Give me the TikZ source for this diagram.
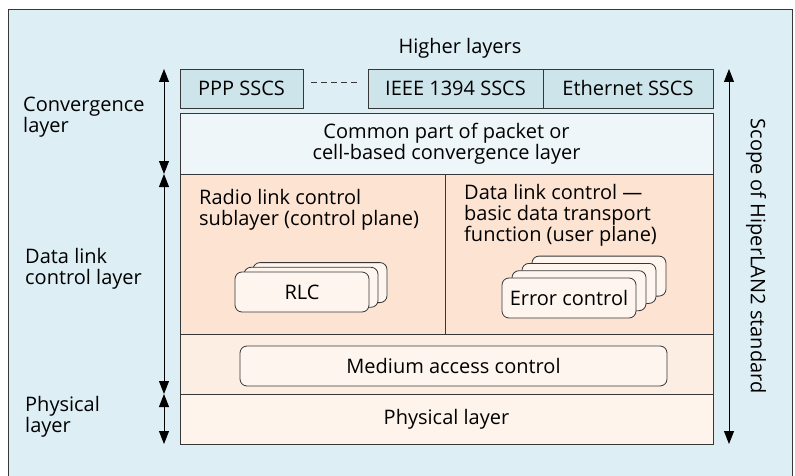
\documentclass[tikz,border=0pt]{standalone}
\usepackage{fontspec}
\setmainfont{Open Sans}
\usetikzlibrary{arrows.meta,positioning}
\definecolor{bgblue}    {RGB}{221,238,245}
\definecolor{sscsblue}  {RGB}{205,228,235}
\definecolor{commonfill}{RGB}{238,246,249}
\definecolor{dlcfill}   {RGB}{253,227,210}
\definecolor{macfill}   {RGB}{253,238,228}
\definecolor{phyfill}   {RGB}{254,244,235}
\definecolor{unitfill}  {RGB}{254,246,238}
\definecolor{linegray}  {RGB}{55,55,55}

\begin{document}
\begin{tikzpicture}[
    x=1pt, y=-1pt,
    font=\fontsize{20}{21}\selectfont,
    layer/.style={draw=linegray, line width=0.9pt, inner sep=0pt, outer sep=0pt, minimum width=533pt, align=center},
    sscs/.style={layer, fill=sscsblue, minimum height=39pt},
    unit/.style={draw=linegray, line width=0.8pt, rounded corners=7pt, fill=unitfill, minimum width=134pt, minimum height=40pt, inner sep=0pt},
    dim/.style={{Triangle[length=13pt,width=10pt]}-{Triangle[length=13pt,width=10pt]}, line width=0.9pt, draw=black},
    side/.style={anchor=north west, align=left, inner sep=0pt}
]
    \useasboundingbox (0,0) rectangle (795,476);
    \draw[draw=linegray, line width=0.9pt, fill=bgblue] (8,9) rectangle (792,484);

    % Convergence sublayers
    \node (higher) at (460,48) {Higher layers};
    \node[sscs, minimum width=123pt] (ppp) at (241.5,88.5) {PPP SSCS};
    \node[sscs, minimum width=175pt] (ieee) at (455.5,88.5) {IEEE 1394 SSCS};
    \node[sscs, minimum width=170pt, right=0pt of ieee] (eth) {Ethernet SSCS};
    \draw[linegray, line width=0.8pt, dash pattern=on 6pt off 4pt]
        ([xshift=8pt, yshift=6.5pt]ppp.east) -- ([xshift=-11pt, yshift=6.5pt]ieee.west);
    \node[layer, fill=commonfill, minimum height=61pt] (common) at (446.5,143.5)
        {Common part of packet or\\cell-based convergence layer};

    % Data link control
    \node[layer, fill=dlcfill, minimum width=265pt, minimum height=160pt,
          below=0pt of common.south west, anchor=north west] (rlcside) {};
    \node[layer, fill=dlcfill, minimum width=268pt, minimum height=160pt,
          right=0pt of rlcside] (dlcside) {};
    \node[side, below right=15pt and 19pt of rlcside.north west] (rlctext)
        {Radio link control\\sublayer (control plane)};
    \node[side, below right=10pt and 19pt of dlcside.north west] (dlctext)
        {Data link control ---\\basic data transport\\function (user plane)};

    \foreach \k in {2,1}
        \node[unit] (rlc\k) at (302+9*\k, 292-4.7*\k) {};
    \node[unit] (rlc) at (302,292) {RLC};
    \foreach \k in {3,2,1}
        \node[unit] (err\k) at (569+10*\k, 298-7.3*\k) {};
    \node[unit] (err) at (569,298) {Error control};

    % MAC and PHY
    \node[layer, fill=macfill, minimum height=60pt,
          below=0pt of rlcside.south west, anchor=north west] (macband) {};
    \node[unit, minimum width=427pt] (mac) at (453.5,366) {Medium access control};
    \node[layer, fill=phyfill, minimum height=50pt, below=0pt of macband] (phy) {Physical layer};

    % Layer extents
    \node[side] (cvlabel) at (23,97) {Convergence\\layer};
    \node[side] (dlclabel) at (25,248) {Data link\\control layer};
    \node[side] (phylabel) at (25,396) {Physical\\layer};
    \draw[dim] ([xshift=-16pt]ppp.north west) -- ([xshift=-16pt]common.south west);
    \draw[dim] ([xshift=-16pt]common.south west) -- ([xshift=-16pt]macband.south west);
    \draw[dim] ([xshift=-16pt]phy.north west) -- ([xshift=-16pt]phy.south west);
    \draw[dim] ([xshift=16pt]eth.north east) -- ([xshift=16pt]phy.south east);
    \node[rotate=-90] (scope) at (756,256) {Scope of HiperLAN2 standard};
\end{tikzpicture}
\end{document}
